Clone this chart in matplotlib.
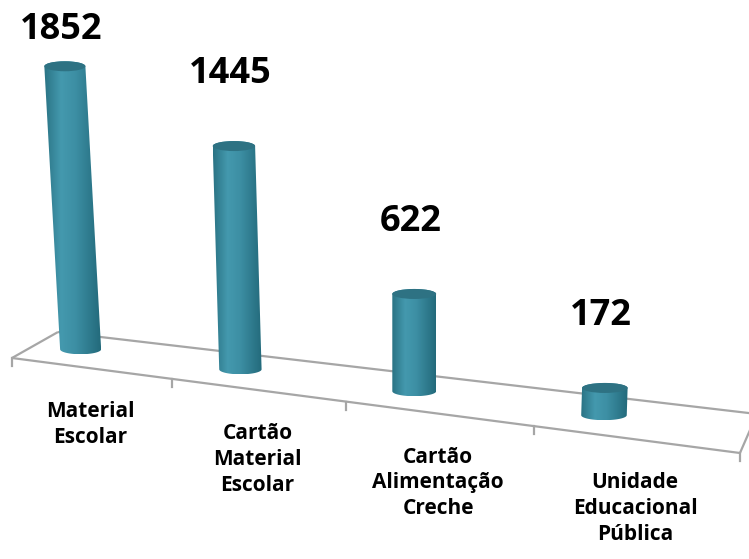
import numpy as np
import matplotlib
matplotlib.use('Agg')
import matplotlib.pyplot as plt
from matplotlib.patches import Polygon, Ellipse
from matplotlib.colors import LinearSegmentedColormap

plt.rcParams['font.family'] = ['Open Sans', 'DejaVu Sans']

categories = ['Material\nEscolar', 'Cartão\nMaterial\nEscolar',
              'Cartão\nAlimentação\nCreche', 'Unidade\nEducacional\nPública']
values = [1852, 1445, 622, 172]

n = len(values)

# front edge of the floor: 1d perspective map u -> pixel x
fx0, fa, fc = 12.0, 153.8, -0.0381
fy0, fslope = 358.0, 0.1305
back_left, back_right = (58, 332), (757, 414)


def front(u):
    x = (fa * u + fx0) / (fc * u + 1)
    return x, fy0 + fslope * (x - fx0)


def base(u):
    # bars sit a little behind and left of the front edge
    x, y = front(u)
    return x - 10 - 7 * (u - 0.5), y - 19 - 1.7 * (u - 0.5)


fig = plt.figure(figsize=(7.49, 5.59), dpi=100)
ax = fig.add_axes([0, 0, 1, 1])
ax.set_xlim(0, 749)
ax.set_ylim(559, 0)
ax.axis('off')

grey = '#a6a6a6'
fl, fr = front(0), front(n)
for p, q in [(fl, fr), (back_left, back_right), (fl, back_left), (fr, back_right)]:
    ax.plot([p[0], q[0]], [p[1], q[1]], color=grey, lw=1.6, zorder=1,
            solid_capstyle='butt')
for k in range(n + 1):
    x, y = front(k)
    ax.plot([x, x], [y, y + 8], color=grey, lw=1.6, zorder=1)

cmap = LinearSegmentedColormap.from_list('cyl', [
    (0.0, '#2a7384'), (0.3, '#4499ae'), (0.55, '#3d8fa4'), (1.0, '#236a7b')])
grad = np.linspace(0, 1, 256)[None, :]

vx, vz = 415, 6000  # vertical vanishing for the slight lean
x_first = base(0.5)[0]
ry = 5
for i, v in enumerate(values):
    bx, by = base(i + 0.5)
    seg = front(i + 1)[0] - front(i)[0]
    rx = 12.5 + 0.05 * seg
    h = v * 0.1528 * (1 + 7e-5 * (bx - x_first))
    tx, ty = bx + (bx - vx) * h / vz, by - h

    t1 = np.linspace(np.pi, 0, 40)
    t2 = np.linspace(0, -np.pi, 40)
    xs = np.concatenate([bx + rx * np.cos(t1), tx + rx * np.cos(t2)])
    ys = np.concatenate([by + ry * np.sin(t1), ty + ry * np.sin(t2)])
    body = Polygon(np.column_stack([xs, ys]), closed=True, fc='none', ec='none')
    ax.add_patch(body)
    im = ax.imshow(grad, cmap=cmap, aspect='auto',
                   extent=(xs.min(), xs.max(), ys.max(), ys.min()), zorder=2,
                   interpolation='bilinear')
    im.set_clip_path(body)
    ax.add_patch(Ellipse((tx, ty), 2 * rx, 2 * ry, fc='#2e7283', ec='none', zorder=3))

    # value label
    ly = max(ty - 72, 30)
    ax.text(tx - 4, ly, f'{v}', ha='center', va='center', fontsize=26,
            fontweight='bold', color='black', zorder=4)

    # category label under the front edge
    cx, cy = front(i + 0.5)
    ax.text(cx, cy + 33, categories[i], ha='center', va='top', fontsize=15,
            fontweight='bold', linespacing=1.3, color='black')

fig.savefig('out.png', dpi=100)
